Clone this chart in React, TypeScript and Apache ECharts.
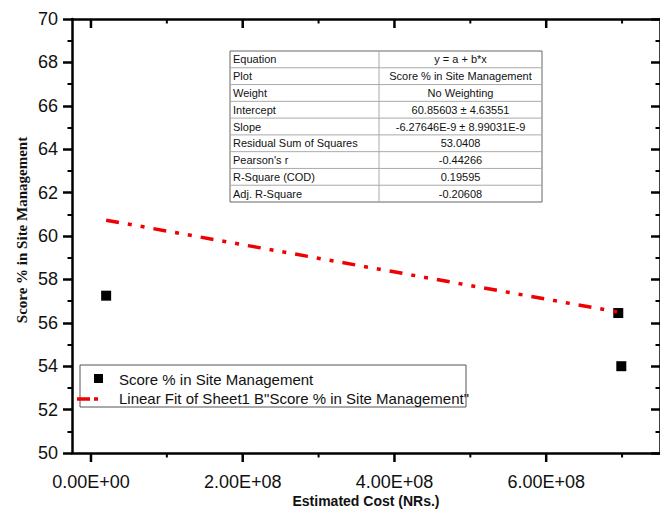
import React, { useEffect, useRef } from "react";
import * as echarts from "echarts";

// ---- data ----
const scatterX = [2.0e7, 6.95e8, 6.99e8];
const scatterY = [57.25, 56.45, 54.0];
const fitX = [2.0e7, 7.02e8];
const fitY = [60.73, 56.45];
const xMajorTicks = [0, 2e8, 4e8, 6e8];
const xMinorTicks = [1e8, 3e8, 5e8, 7e8];
const seriesName = "Score % in Site Management";
const fitName = 'Linear Fit of Sheet1 B"Score % in Site Management"';
const xTitle = "Estimated Cost (NRs.)";
const yTitle = "Score % in Site Management";
const tableLabels = [
  "Equation",
  "Plot",
  "Weight",
  "Intercept",
  "Slope",
  "Residual Sum of Squares",
  "Pearson's r",
  "R-Square (COD)",
  "Adj. R-Square",
];
const tableValues = [
  "y = a + b*x",
  "Score % in Site Management",
  "No Weighting",
  "60.85603 ± 4.63551",
  "-6.27646E-9 ± 8.99031E-9",
  "53.0408",
  "-0.44266",
  "0.19595",
  "-0.20608",
];

const SANS = '"Liberation Sans", Arial, sans-serif';
const SERIF = '"Liberation Serif", "Times New Roman", serif';
const FIT_COLOR = "#f00000";

function sci(v: number): string {
  if (v === 0) return "0.00E+00";
  const e = Math.floor(Math.log10(Math.abs(v)));
  const m = v / Math.pow(10, e);
  return m.toFixed(2) + "E" + (e >= 0 ? "+" : "-") + String(Math.abs(e)).padStart(2, "0");
}

const X_MIN = -2.5e7;
const X_MAX = 7.5e8;
// the chart div sits inside the body's 8px margin
const O = 8;

function tickSeries(values: number[], len: number, width: number) {
  return {
    type: "custom",
    xAxisIndex: 0,
    yAxisIndex: 0,
    silent: true,
    clip: false,
    z: 10,
    encode: { x: 0, y: 1 },
    data: values.map((v) => [v, 60]),
    renderItem: (params: any, api: any) => {
      const x = api.coord([api.value(0), 60])[0];
      const cs = params.coordSys;
      const top = cs.y;
      const bottom = cs.y + cs.height;
      const st = { stroke: "#000", lineWidth: width };
      return {
        type: "group",
        children: [
          { type: "line", shape: { x1: x, y1: bottom, x2: x, y2: bottom + len }, style: st },
          { type: "line", shape: { x1: x, y1: top, x2: x, y2: top + len }, style: st },
        ],
      };
    },
  };
}

export default function App() {
  const ref = useRef<HTMLDivElement>(null);
  useEffect(() => {
    if (!ref.current) return;
    const chart = echarts.init(ref.current, null, { renderer: "svg" });

    const tblX = 230 - O, tblY = 51 - O, tblW = 312, tblH = 151, colX = 379 - O;
    const rowH = tblH / tableLabels.length;
    const tableChildren: any[] = [
      { type: "rect", shape: { x: tblX, y: tblY, width: tblW, height: tblH }, style: { fill: "#fff", stroke: "#666", lineWidth: 1 } },
      { type: "line", shape: { x1: colX, y1: tblY, x2: colX, y2: tblY + tblH }, style: { stroke: "#aaa", lineWidth: 1 } },
    ];
    for (let i = 1; i < tableLabels.length; i++) {
      tableChildren.push({ type: "line", shape: { x1: tblX, y1: tblY + i * rowH, x2: tblX + tblW, y2: tblY + i * rowH }, style: { stroke: "#aaa", lineWidth: 1 } });
    }
    tableLabels.forEach((t, i) => {
      tableChildren.push({ type: "text", x: tblX + 3, y: tblY + (i + 0.5) * rowH, style: { text: t, font: `11px ${SANS}`, fill: "#111", textAlign: "left", textVerticalAlign: "middle", align: "left", verticalAlign: "middle" } });
    });
    tableValues.forEach((t, i) => {
      tableChildren.push({ type: "text", x: (colX + tblX + tblW) / 2, y: tblY + (i + 0.5) * rowH, style: { text: t, font: `11px ${SANS}`, fill: "#111", textAlign: "center", textVerticalAlign: "middle", align: "center", verticalAlign: "middle" } });
    });

    const legendChildren: any[] = [
      { type: "rect", shape: { x: 80 - O, y: 365 - O, width: 386, height: 42 }, style: { fill: "#fff", stroke: "#555", lineWidth: 1 } },
      { type: "rect", shape: { x: 94 - O, y: 374 - O, width: 9, height: 9 }, style: { fill: "#000" } },
      { type: "text", x: 119 - O, y: 379 - O, style: { text: seriesName, font: `15px ${SANS}`, fill: "#111", textAlign: "left", textVerticalAlign: "middle", align: "left", verticalAlign: "middle" } },
      { type: "line", shape: { x1: 77 - O, y1: 399 - O, x2: 98 - O, y2: 399 - O }, style: { stroke: FIT_COLOR, lineWidth: 3.5, lineDash: [13, 4, 4, 20] } },
      { type: "text", x: 119 - O, y: 398 - O, style: { text: fitName, font: `15px ${SANS}`, fill: "#111", textAlign: "left", textVerticalAlign: "middle", align: "left", verticalAlign: "middle" } },
    ];

    const titleChildren: any[] = [
      { type: "text", x: 366 - O, y: 501 - O, style: { text: xTitle, font: `bold 14px ${SANS}`, fill: "#111", textAlign: "center", textVerticalAlign: "middle", align: "center", verticalAlign: "middle" } },
      { type: "text", x: 22 - O, y: 230 - O, rotation: Math.PI / 2, style: { text: yTitle, font: `bold 15px ${SERIF}`, fill: "#111", textAlign: "center", textVerticalAlign: "middle", align: "center", verticalAlign: "middle" } },
    ];

    const axisLineStyle = { color: "#000", width: 2.5 };
    const option: any = {
      animation: false,
      backgroundColor: "#fff",
      grid: { left: 72 - O, right: 8, top: 19 - O, bottom: 62, containLabel: false },
      xAxis: [
        {
          type: "value", position: "bottom", min: X_MIN, max: X_MAX,
          axisLine: { show: true, onZero: false, lineStyle: axisLineStyle },
          axisTick: { show: false },
          axisLabel: { show: true, customValues: xMajorTicks, formatter: (v: number) => sci(v), fontSize: 18, fontFamily: SANS, color: "#111", margin: 20 },
          splitLine: { show: false },
        },
        {
          type: "value", position: "top", min: X_MIN, max: X_MAX,
          axisLine: { show: true, onZero: false, lineStyle: axisLineStyle },
          axisTick: { show: false },
          axisLabel: { show: false }, splitLine: { show: false },
        },
      ],
      yAxis: [
        {
          type: "value", position: "left", min: 50, max: 70, interval: 2,
          axisLine: { show: true, onZero: false, lineStyle: axisLineStyle },
          axisTick: { show: true, inside: false, length: 9, lineStyle: { color: "#000", width: 2.5 } },
          minorTick: { show: true, splitNumber: 2, length: 4.5, lineStyle: { color: "#000", width: 2 } },
          axisLabel: { fontSize: 18, fontFamily: SANS, color: "#111", margin: 14 },
          splitLine: { show: false }, minorSplitLine: { show: false },
        },
        {
          type: "value", position: "right", min: 50, max: 70, interval: 2,
          axisLine: { show: true, onZero: false, lineStyle: axisLineStyle },
          axisTick: { show: true, inside: true, length: 9, lineStyle: { color: "#000", width: 2.5 } },
          minorTick: { show: true, splitNumber: 2, length: 4.5, lineStyle: { color: "#000", width: 2 } },
          axisLabel: { show: false },
          splitLine: { show: false }, minorSplitLine: { show: false },
        },
      ],
      series: [
        {
          name: seriesName, type: "scatter",
          symbol: "rect", symbolSize: 10, itemStyle: { color: "#000", opacity: 1 },
          data: scatterX.map((x, i) => [x, scatterY[i]]),
        },
        {
          name: fitName, type: "line", symbol: "none", showSymbol: false, clip: false,
          lineStyle: { color: FIT_COLOR, width: 3.5, type: [13, 9, 4, 9, 4, 9] },
          data: fitX.map((x, i) => [x, fitY[i]]),
        },
        tickSeries(xMajorTicks, 9, 2.5),
        tickSeries(xMinorTicks, 4.5, 2),
      ],
      graphic: [
        { type: "group", children: tableChildren },
        { type: "group", children: legendChildren },
        { type: "group", children: titleChildren },
      ],
    };
    chart.setOption(option);
    return () => chart.dispose();
  }, []);
  return <div ref={ref} style={{ width: 660, height: 507 }} />;
}
